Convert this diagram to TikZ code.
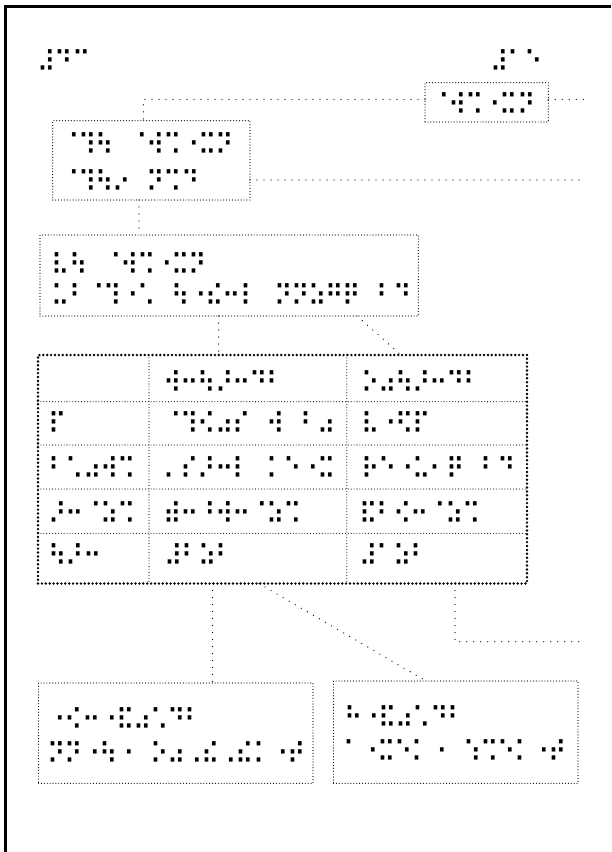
\documentclass[tikz,border=0pt]{standalone}
\usepackage{fontspec}
\usepackage{graphicx}
\newfontfamily\brlfont{DejaVu Sans}
% --- measure the braille glyph geometry of DejaVu Sans at 10pt ---
\newdimen\brTopA \newdimen\brTopC \newdimen\brLsbA \newdimen\brLsbD \newdimen\brRsbA \newdimen\brAdvA
\setbox0=\hbox{\brlfont\fontsize{10pt}{12pt}\selectfont
  \global\brTopA=\XeTeXglyphbounds 2 \XeTeXcharglyph"2801\relax
  \global\brTopC=\XeTeXglyphbounds 2 \XeTeXcharglyph"2804\relax
  \global\brLsbA=\XeTeXglyphbounds 1 \XeTeXcharglyph"2801\relax
  \global\brLsbD=\XeTeXglyphbounds 1 \XeTeXcharglyph"2808\relax
  \global\brRsbA=\XeTeXglyphbounds 3 \XeTeXcharglyph"2801\relax
  \setbox2=\hbox{⠁}\global\brAdvA=\wd2 }
\pgfmathsetmacro\brRS{(\the\brTopA-\the\brTopC)/2}
\pgfmathsetmacro\brF{8.1/\brRS}
\pgfmathsetmacro\brSize{10*\brF}
\pgfmathsetmacro\brCS{\the\brLsbD-\the\brLsbA}
\pgfmathsetmacro\brXS{7.3/(\brCS*\brF)}
\pgfmathsetmacro\brRad{(\the\brAdvA-\the\brLsbA-\the\brRsbA)/2}
\pgfmathsetmacro\brOX{(\the\brLsbA+\brRad)*\brF*\brXS}
\pgfmathsetmacro\brOY{(\the\brTopA-\brRad)*\brF}
\newcommand\brcell[1]{\hbox to 17.1pt{\kern-\brOX pt\scalebox{\brXS}[1]{\brlfont\fontsize{\brSize pt}{\brSize pt}\selectfont #1}\hss}}
\ExplSyntaxOn
\NewDocumentCommand \brl { m } { \raisebox{-\brOY pt}{ \hbox:n { \tl_map_inline:nn {#1} { \brcell{##1} } } } }
\ExplSyntaxOff
\begin{document}
\begin{tikzpicture}[x=1pt,y=1pt,
  boxst/.style={draw, rectangle, inner sep=0pt, outer sep=0pt, anchor=north west,
    line width=1.2pt, dash pattern=on 0pt off 2.9pt, line cap=round},
  tblst/.style={draw, rectangle, inner sep=0pt, outer sep=0pt, anchor=north west,
    line width=2.7pt, dash pattern=on 0pt off 3.9pt, line cap=round},
  gridst/.style={line width=1.1pt, dash pattern=on 0pt off 2.9pt, line cap=round},
  conn/.style={line width=1.3pt, dash pattern=on 0pt off 7pt, line cap=round},
  brt/.style={anchor=base west, inner sep=0pt, outer sep=0pt}]
\useasboundingbox (0,0) rectangle (611,-852);
\fill[white] (0,0) rectangle (611,-852);
% page frame
\draw[line width=3pt] (5,-852) -- (5,-6.5) -- (611,-6.5);

% page numbers
\node[brt] (hdrL) at (43.3,-51.7) {\brl{⠼⠙⠉}};
\node[brt] (hdrR) at (496,-51.7) {\brl{⠼⠁⠑}};

% boxes
\node[boxst, minimum width=123.3pt, minimum height=39.3pt] (A) at (425,-82.7) {};
\node[boxst, minimum width=197.3pt, minimum height=79.3pt] (B) at (52.7,-120.7) {};
\node[boxst, minimum width=378.3pt, minimum height=81pt] (C) at (40,-235) {};
\node[tblst, minimum width=489pt, minimum height=228.5pt] (T) at (38,-355) {};
\node[boxst, minimum width=274.5pt, minimum height=100.3pt] (D) at (38.5,-683) {};
\node[boxst, minimum width=244.5pt, minimum height=102.3pt] (E) at (333.5,-681) {};

% table grid
\draw[gridst] (149,-355) -- (149,-583.5);
\draw[gridst] (346.8,-355) -- (346.8,-583.5);
\foreach \yy in {401.7,445,489,533.3} \draw[gridst] (38,-\yy) -- (527,-\yy);

% box texts
\node[brt] (a1) at (437,-95) {\brl{⠈⠺⠩⠐⠭⠝}};
\node[brt] (b1) at (66.8,-135) {\brl{⠈⠹⠳⠀⠈⠺⠩⠐⠭⠝}};
\node[brt] (b2) at (66.8,-171.7) {\brl{⠈⠹⠳⠔⠀⠝⠩⠙}};
\node[brt] (c1) at (57.4,-254.3) {\brl{⠧⠳⠀⠈⠺⠩⠐⠭⠝}};
\node[brt] (c2) at (57.4,-286) {\brl{⠥⠃⠈⠹⠐⠡⠀⠳⠐⠮⠒⠇⠀⠝⠝⠵⠛⠟⠀⠃⠙}};

% table texts
\node[brt] (t12) at (169.2,-372.3) {\brl{⠺⠒⠳⠜⠒⠙⠃}};
\node[brt] (t13) at (366.5,-372.3) {\brl{⠕⠴⠳⠜⠒⠙⠃}};
\node[brt] (t21) at (54.3,-414) {\brl{⠏}};
\node[brt] (t22) at (169.2,-414) {\brl{⠈⠹⠪⠴⠎⠀⠺⠀⠃⠴}};
\node[brt] (t23) at (366.5,-414) {\brl{⠧⠐⠫⠏}};
\node[brt] (t31) at (54.3,-458.3) {\brl{⠃⠡⠴⠺⠩}};
\node[brt] (t32) at (169.2,-458.3) {\brl{⠄⠎⠜⠒⠇⠀⠅⠑⠐⠭}};
\node[brt] (t33) at (366.5,-458.3) {\brl{⠗⠑⠐⠥⠂⠟⠀⠃⠙}};
\node[brt] (t41) at (54.3,-504) {\brl{⠜⠒⠈⠵⠩}};
\node[brt] (t42) at (169.2,-504) {\brl{⠾⠒⠘⠺⠒⠈⠵⠩}};
\node[brt] (t43) at (365,-504) {\brl{⠯⠃⠪⠒⠈⠵⠩}};
\node[brt] (t51) at (54.3,-546) {\brl{⠳⠜⠒}};
\node[brt] (t52) at (170,-546) {\brl{⠼⠃⠵⠃}};
\node[brt] (t53) at (365,-546) {\brl{⠼⠁⠵⠃}};

% bottom box texts
\node[brt] (d1) at (53.3,-709.3) {\brl{⠐⠪⠒⠐⠯⠴⠡⠙⠃}};
\node[brt] (d2) at (53.3,-744) {\brl{⠝⠝⠐⠳⠐⠀⠕⠴⠠⠮⠠⠮⠅⠐⠞}};
\node[brt] (e1) at (350,-707.3) {\brl{⠓⠐⠯⠴⠡⠙⠃}};
\node[brt] (e2) at (349,-741.3) {\brl{⠁⠐⠭⠑⠅⠐⠀⠱⠩⠑⠅⠐⠞}};

% connectors
\coordinate (aR) at (584,-99.5);
\coordinate (bR) at (584,-180);
\coordinate (tR) at (585,-641.7);
\draw[conn] (A.west |- aR) -| ([xshift=-8pt]B.north);
\draw[conn] (A.east |- aR) -- (aR);
\draw[conn] (B.east |- bR) -- (bR);
\coordinate (bc) at ([xshift=-12.3pt]B.south);
\draw[conn] (bc) -- (bc |- C.north);
\coordinate (cv) at ([xshift=-10.5pt]C.south);
\draw[conn] (cv) -- (cv |- T.north);
\draw[conn] ([xshift=127.9pt]C.south) -- ([xshift=118.5pt]T.north);
\coordinate (tv) at ([xshift=-70pt]T.south);
\draw[conn] (tv) -- (tv |- D.north);
\draw[conn] ([xshift=-23.5pt]T.south) -- ([xshift=-29.8pt]E.north);
\draw[conn] ([xshift=172.5pt]T.south) |- (tR);
\end{tikzpicture}
\end{document}
